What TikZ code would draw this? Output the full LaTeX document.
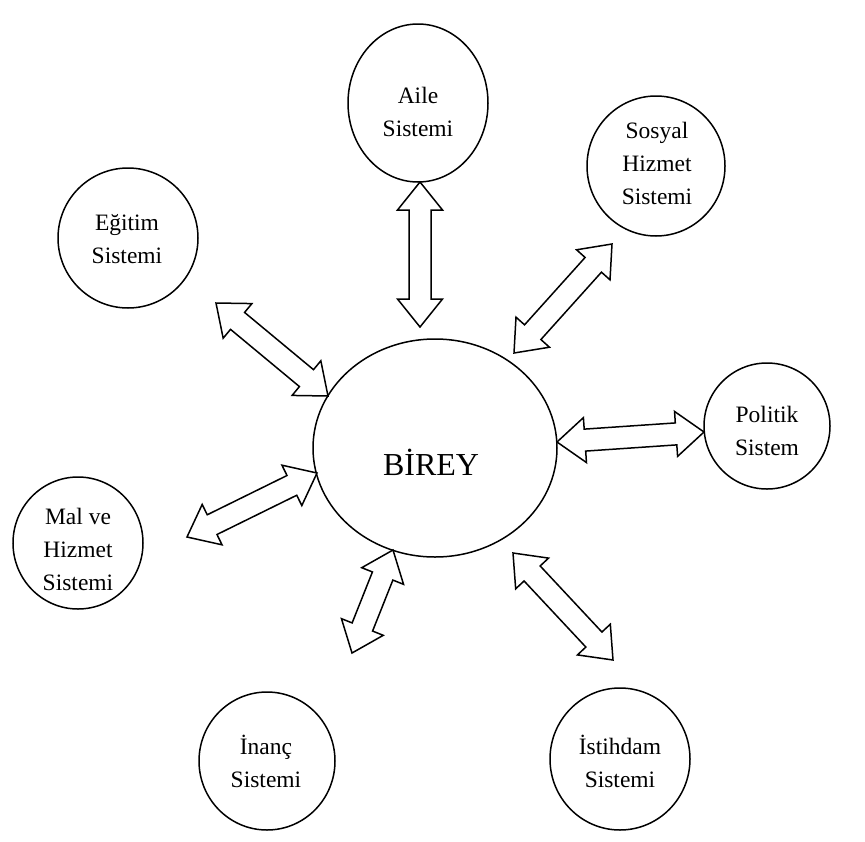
\documentclass[tikz,border=0pt]{standalone}
\usepackage{fontspec}
\setmainfont{Liberation Serif}
\usetikzlibrary{calc,shapes.geometric}
\tikzset{
  sysnode/.style={draw, line width=1.5pt, ellipse, inner sep=0pt},
  systext/.style={align=center, font=\fontsize{23.5}{33}\selectfont},
  arrbox/.style={draw, line width=1.5pt, fill=white, line join=miter},
}
\newcommand{\dblarrow}[2]{%
  \draw[arrbox]
    (#1)
    -- ($(#1)!28pt!(#2)!22.5pt!90:(#2)$)
    -- ($(#1)!28pt!(#2)!11pt!90:(#2)$)
    -- ($(#2)!28pt!(#1)!11pt!-90:(#1)$)
    -- ($(#2)!28pt!(#1)!22.5pt!-90:(#1)$)
    -- (#2)
    -- ($(#2)!28pt!(#1)!22.5pt!90:(#1)$)
    -- ($(#2)!28pt!(#1)!11pt!90:(#1)$)
    -- ($(#1)!28pt!(#2)!11pt!-90:(#2)$)
    -- ($(#1)!28pt!(#2)!22.5pt!-90:(#2)$)
    -- cycle;}
\begin{document}
\begin{tikzpicture}[x=1pt,y=-1pt]
\useasboundingbox (0,0) rectangle (865,841);
% circles
\node[sysnode, minimum width=140pt, minimum height=158pt] (aile) at (418,103) {};
\node[systext] (ailet) at (418,112) {Aile\\Sistemi};
\node[sysnode, minimum width=138pt, minimum height=140pt] (sosyal) at (656,166) {};
\node[systext] (sosyalt) at (657,163) {Sosyal\\Hizmet\\Sistemi};
\node[sysnode, minimum width=140pt, minimum height=140pt] (egitim) at (128,238) {};
\node[systext] (egitimt) at (127,239) {Eğitim\\Sistemi};
\node[sysnode, minimum width=126pt, minimum height=126pt] (politik) at (767,426) {};
\node[systext] (politikt) at (767,431) {Politik\\Sistem};
\node[sysnode, minimum width=130pt, minimum height=132pt] (mal) at (78,543) {};
\node[systext] (malt) at (78,549) {Mal ve\\Hizmet\\Sistemi};
\node[sysnode, minimum width=136pt, minimum height=138pt] (inanc) at (267,761) {};
\node[systext] (inanct) at (266,761) {İnanç\\Sistemi};
\node[sysnode, minimum width=140pt, minimum height=142pt] (istihdam) at (620,759) {};
\node[systext] (istihdamt) at (620,761) {İstihdam\\Sistemi};
\node[draw, line width=1.5pt, ellipse, minimum width=244pt, minimum height=218pt] (birey) at (435,448) {};
\node[font=\fontsize{32}{38}\selectfont] (bireyt) at (431,462) {BİREY};
% arrows
\coordinate (a1) at (420,182); \coordinate (a2) at (420,327);
\coordinate (e1) at (216,303); \coordinate (e2) at (328,396);
\coordinate (s1) at (612,244); \coordinate (s2) at (514,353);
\coordinate (p1) at (557,442); \coordinate (p2) at (704,432);
\coordinate (m1) at (187,537); \coordinate (m2) at (317,473);
\coordinate (i1) at (352,653); \coordinate (i2) at (393,550);
\coordinate (t1) at (613,660); \coordinate (t2) at (513,553);
\dblarrow{a1}{a2}
\dblarrow{e1}{e2}
\dblarrow{s1}{s2}
\dblarrow{p1}{p2}
\dblarrow{m1}{m2}
\dblarrow{i1}{i2}
\dblarrow{t1}{t2}
\end{tikzpicture}
\end{document}
